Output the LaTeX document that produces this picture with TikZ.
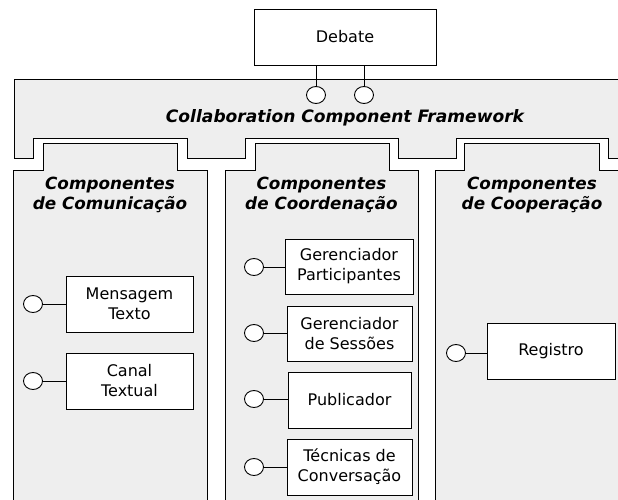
\documentclass[tikz,border=0pt]{standalone}
\usepackage{fontspec}
\setmainfont{DejaVu Sans}
\usetikzlibrary{shapes.geometric}
\definecolor{panelgray}{RGB}{238,238,238}
\tikzset{
  comp/.style={draw=black, fill=white, line width=0.9pt, inner sep=0pt, align=center,
    font=\fontsize{16}{20}\selectfont},
  port/.style={draw=black, fill=white, ellipse, line width=0.9pt, minimum width=19pt, minimum height=17pt, inner sep=0pt},
  wire/.style={line width=0.9pt},
  panel/.style={draw=black, fill=panelgray, line width=1pt},
  title/.style={align=center, font=\fontsize{16.8}{20}\selectfont\bfseries\itshape}
}
\begin{document}
\begin{tikzpicture}[x=1pt,y=-1pt]
\useasboundingbox (0,0) rectangle (618,500);
\clip (0,0) rectangle (618,500);
% framework
\draw[panel] (14,80) -- (640,80) -- (640,158) -- (608,158) -- (608,138) -- (456,138) -- (456,158)
  -- (398,158) -- (398,138) -- (245,138) -- (245,158) -- (187,158) -- (187,138) -- (33,138)
  -- (33,158) -- (14,158) -- cycle;
\node[title, font=\fontsize{17.1}{20}\selectfont\bfseries\itshape] (fwt) at (345,118) {Collaboration Component Framework};
% components
\draw[panel] (13,520) -- (13,170) -- (43,170) -- (43,143) -- (177,143) -- (177,170) -- (207,170) -- (207,520);
\draw[panel] (225,520) -- (225,170) -- (255,170) -- (255,143) -- (389,143) -- (389,170) -- (418,170) -- (418,520);
\draw[panel] (435,520) -- (435,170) -- (464,170) -- (464,143) -- (599,143) -- (599,170) -- (640,170) -- (640,520);
\node[title] (t1) at (110,195) {Componentes\\de Comunicação};
\node[title] (t2) at (321.5,195) {Componentes\\de Coordenação};
\node[title] (t3) at (532,195) {Componentes\\de Cooperação};
% debate
\node[comp, minimum width=182pt, minimum height=56pt] (deb) at (345,37) {Debate};
\node[port] (dp1) at (316,95) {};
\node[port] (dp2) at (364,95) {};
\draw[wire] (dp1) -- (dp1 |- deb.south);
\draw[wire] (dp2) -- (dp2 |- deb.south);
% comunicação
\node[comp, minimum width=127pt, minimum height=56pt] (msg) at (129.5,304) {Mensagem\\Texto};
\node[comp, minimum width=127pt, minimum height=56pt] (can) at (129.5,381) {Canal\\Textual};
\node[port] (pm) at (33,304) {};
\node[port] (pc) at (33,381) {};
\draw[wire] (pm) -- (msg);
\draw[wire] (pc) -- (can);
% coordenação
\node[comp, minimum width=128pt, minimum height=55pt] (gp) at (349,266.5) {Gerenciador\\Participantes};
\node[comp, minimum width=125pt, minimum height=55pt] (gs) at (349.5,333.5) {Gerenciador\\de Sessões};
\node[comp, minimum width=123pt, minimum height=56pt] (pub) at (349.5,400) {Publicador};
\node[comp, minimum width=125pt, minimum height=56pt] (tec) at (349.5,467) {Técnicas de\\Conversação};
\node[port] (pgp) at (254,267) {};
\node[port] (pgs) at (254,333) {};
\node[port] (ppub) at (254,399) {};
\node[port] (ptec) at (254,467) {};
\draw[wire] (pgp) -- (pgp -| gp.west);
\draw[wire] (pgs) -- (pgs -| gs.west);
\draw[wire] (ppub) -- (ppub -| pub.west);
\draw[wire] (ptec) -- (ptec -| tec.west);
% cooperação
\node[comp, minimum width=128pt, minimum height=56pt] (reg) at (551,351) {Registro};
\node[port] (preg) at (456,353) {};
\draw[wire] (preg) -- (preg -| reg.west);
\end{tikzpicture}
\end{document}
